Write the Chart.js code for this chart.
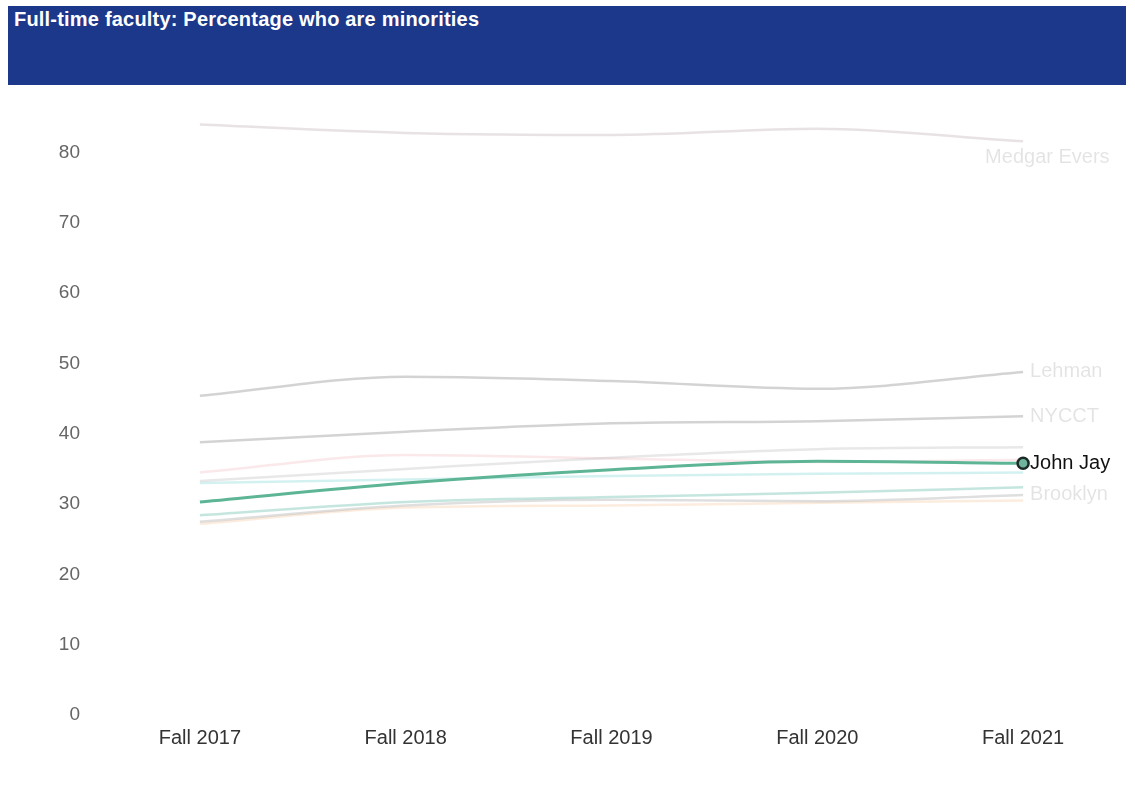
<!DOCTYPE html>
<html>
<head>
<meta charset="utf-8">
<script src="https://cdn.jsdelivr.net/npm/chart.js@4.4.0/dist/chart.umd.min.js"></script>
<style>
  body { margin: 0; background: #fff; font-family: "Liberation Sans", Arial, sans-serif; }
  .banner {
    position: absolute; left: 8px; top: 6px; width: 1118px; height: 79px;
    background: #1b388a;
  }
  .banner h1 {
    margin: 0; padding: 2px 0 0 6px; color: #fff;
    font-size: 20px; font-weight: bold; letter-spacing: 0.2px;
  }
  .wrap { position: absolute; left: 0; top: 90px; width: 1135px; height: 699px; }
</style>
</head>
<body>
<div class="banner"><h1>Full-time faculty: Percentage who are minorities</h1></div>
<div class="wrap"><canvas id="chart-1"></canvas></div>
<script>
const terms = ["Fall 2017", "Fall 2018", "Fall 2019", "Fall 2020", "Fall 2021"];

const johnJay     = [30.3, 33.0, 34.9, 36.1, 35.8];
const medgarEvers = [84.0, 82.8, 82.5, 83.4, 81.6];
const lehman      = [45.4, 48.1, 47.5, 46.4, 48.8];
const nycct       = [38.8, 40.3, 41.5, 41.8, 42.5];
const grayA       = [33.3, 35.0, 36.6, 37.8, 38.1];
const pinkA       = [34.5, 37.0, 36.5, 36.0, 36.3];
const cyanA       = [33.0, 33.5, 34.0, 34.3, 34.5];
const tealA       = [28.4, 30.3, 31.0, 31.6, 32.4];
const brooklyn    = [27.5, 29.8, 30.6, 30.4, 31.3];
const orangeA     = [27.2, 29.5, 29.8, 30.2, 30.5];

function faint(label, data, color, endLabel) {
    return {
        label: label,
        data: data,
        borderColor: color,
        borderWidth: 2.5,
        pointRadius: 0,
        cubicInterpolationMode: 'monotone',
        order: 1,
        endLabel: endLabel
    };
}

const datasets = [
    {
        label: 'John Jay',
        data: johnJay,
        borderColor: '#5db596',
        borderWidth: 3,
        cubicInterpolationMode: 'monotone',
        pointRadius: johnJay.map((v, i) => i === johnJay.length - 1 ? 5.5 : 0),
        pointBackgroundColor: '#6fb59c',
        pointBorderColor: '#1c2b28',
        pointBorderWidth: 2.5,
        order: 0,
        endLabel: { text: 'John Jay', color: '#111' }
    },
    faint('Medgar Evers', medgarEvers, 'rgba(205,190,195,0.45)', { text: 'Medgar Evers', color: 'rgba(0,0,0,0.11)', dy: 16, dx: -45 }),
    faint('Lehman', lehman, 'rgba(175,175,175,0.55)', { text: 'Lehman', color: 'rgba(0,0,0,0.11)' }),
    faint('NYCCT', nycct, 'rgba(175,175,175,0.55)', { text: 'NYCCT', color: 'rgba(0,0,0,0.11)' }),
    faint('Other A', grayA, 'rgba(190,190,190,0.35)', null),
    faint('Other B', pinkA, 'rgba(240,180,185,0.3)', null),
    faint('Other C', cyanA, 'rgba(160,225,225,0.45)', null),
    faint('Other D', tealA, 'rgba(140,205,190,0.5)', null),
    faint('Brooklyn', brooklyn, 'rgba(185,185,185,0.45)', { text: 'Brooklyn', color: 'rgba(0,0,0,0.11)' }),
    faint('Other E', orangeA, 'rgba(245,200,160,0.35)', null)
];

const endLabels = {
    id: 'endLabels',
    afterDatasetsDraw(chart) {
        const ctx = chart.ctx;
        ctx.save();
        ctx.font = '20px "Liberation Sans", Arial, sans-serif';
        ctx.textBaseline = 'middle';
        chart.data.datasets.forEach((ds, i) => {
            if (!ds.endLabel) return;
            const pts = chart.getDatasetMeta(i).data;
            const p = pts[pts.length - 1];
            ctx.fillStyle = ds.endLabel.color;
            ctx.fillText(ds.endLabel.text, p.x + 7 + (ds.endLabel.dx || 0), p.y + (ds.endLabel.dy || 0));
        });
        ctx.restore();
    }
};

new Chart(document.getElementById('chart-1').getContext('2d'), {
    type: 'line',
    data: { labels: terms, datasets: datasets },
    options: {
        responsive: true,
        maintainAspectRatio: false,
        animation: false,
        layout: { padding: { top: 20, right: 9, left: 0, bottom: 0 } },
        plugins: { legend: { display: false }, tooltip: { enabled: false } },
        scales: {
            x: {
                offset: true,
                grid: { display: false },
                border: { display: false },
                ticks: { color: '#333', padding: 3, font: { size: 20, family: '"Liberation Sans", Arial' } },
                afterFit: (s) => { s.height = 74; }
            },
            y: {
                min: 0,
                max: 86,
                grid: { display: false },
                border: { display: false },
                ticks: { stepSize: 10, color: '#666', padding: 9, font: { size: 19, family: '"Liberation Sans", Arial' } },
                afterBuildTicks: (s) => { s.ticks = s.ticks.filter(t => t.value % 10 === 0); },
                afterFit: (s) => { s.width = 97; }
            }
        }
    },
    plugins: [endLabels]
});
</script>
</body>
</html>
